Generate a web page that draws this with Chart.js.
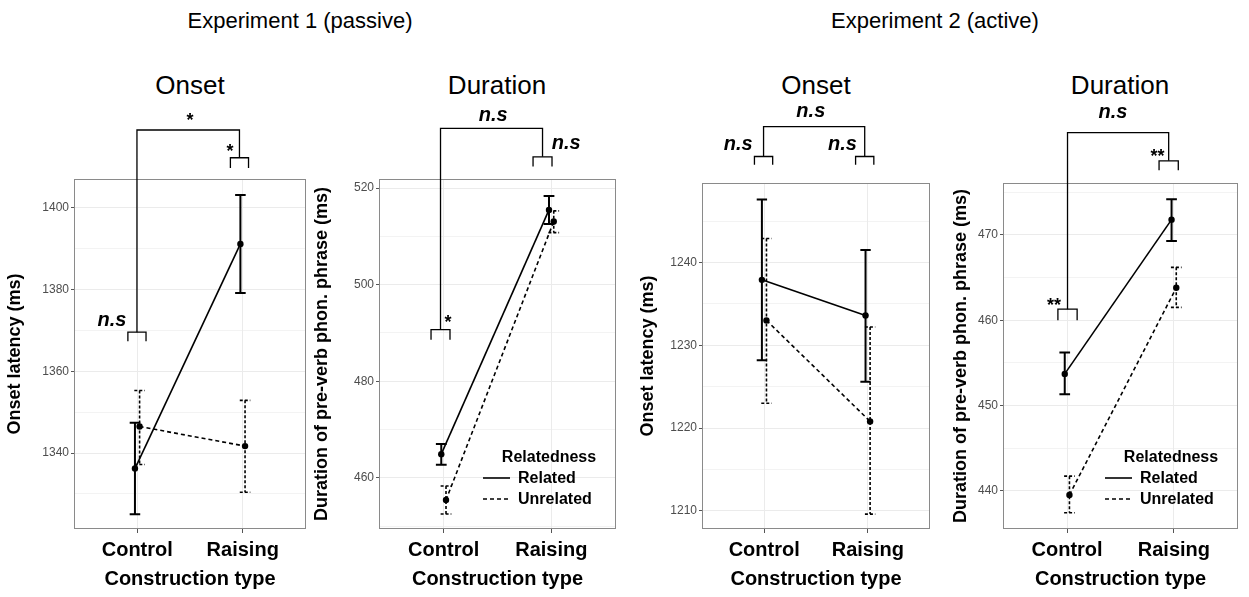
<!DOCTYPE html>
<html>
<head>
<meta charset="utf-8">
<script src="https://cdn.jsdelivr.net/npm/chart.js@4"></script>
<style>
  body { margin: 0; background: #fff; width: 1249px; height: 597px; position: relative; overflow: hidden;
         font-family: "Liberation Sans", Arial, sans-serif; color: #000; }
  .exp { position: absolute; top: 8px; font-size: 22px; transform: translateX(-50%); white-space: nowrap; }
  .ptitle { position: absolute; top: 70px; font-size: 26px; transform: translateX(-50%); white-space: nowrap; }
  canvas { position: absolute; }
</style>
</head>
<body>
<div class="exp" style="left:300px">Experiment 1 (passive)</div>
<div class="exp" style="left:935px">Experiment 2 (active)</div>
<div class="ptitle" style="left:190px">Onset</div>
<div class="ptitle" style="left:497px">Duration</div>
<div class="ptitle" style="left:816px">Onset</div>
<div class="ptitle" style="left:1120px">Duration</div>

<canvas id="p1" width="310" height="537" style="left:0px;top:60px"></canvas>
<canvas id="p2" width="310" height="537" style="left:310px;top:60px"></canvas>
<canvas id="p3" width="310" height="537" style="left:625px;top:60px"></canvas>
<canvas id="p4" width="309" height="537" style="left:940px;top:60px"></canvas>

<script>
// categories and legend entries
const categories = ['Control', 'Raising'];
const groups = ['Related', 'Unrelated'];

// Experiment 1 - onset latency (ms), mean and error bar ends
const e1OnsetRel   = [1336.2, 1391.2];
const e1OnsetRelLo = [1325.0, 1379.2];
const e1OnsetRelHi = [1347.4, 1403.2];
const e1OnsetUnr   = [1346.5, 1341.7];
const e1OnsetUnrLo = [1337.2, 1330.4];
const e1OnsetUnrHi = [1355.3, 1352.9];
const e1OnsetTicks = [1340, 1360, 1380, 1400];
const e1OnsetSig   = ['n.s', '*', '*'];   // control, raising, across

// Experiment 1 - duration of pre-verb phon. phrase (ms)
const e1DurRel   = [464.9, 515.5];
const e1DurRelLo = [462.7, 512.6];
const e1DurRelHi = [467.0, 518.4];
const e1DurUnr   = [455.4, 513.1];
const e1DurUnrLo = [452.5, 510.8];
const e1DurUnrHi = [458.3, 515.3];
const e1DurTicks = [460, 480, 500, 520];
const e1DurSig   = ['*', 'n.s', 'n.s'];

// Experiment 2 - onset latency (ms)
const e2OnsetRel   = [1237.9, 1233.6];
const e2OnsetRelLo = [1228.2, 1225.6];
const e2OnsetRelHi = [1247.6, 1241.5];
const e2OnsetUnr   = [1233.0, 1220.8];
const e2OnsetUnrLo = [1223.0, 1209.6];
const e2OnsetUnrHi = [1242.9, 1232.2];
const e2OnsetTicks = [1210, 1220, 1230, 1240];
const e2OnsetSig   = ['n.s', 'n.s', 'n.s'];

// Experiment 2 - duration of pre-verb phon. phrase (ms)
const e2DurRel   = [453.7, 471.8];
const e2DurRelLo = [451.3, 469.3];
const e2DurRelHi = [456.2, 474.2];
const e2DurUnr   = [439.5, 463.8];
const e2DurUnrLo = [437.4, 461.5];
const e2DurUnrHi = [441.7, 466.2];
const e2DurTicks = [440, 450, 460, 470];
const e2DurSig   = ['**', '**', 'n.s'];

const dodge = 0.022;
const capHalf = 0.05;

function withMinor(major, min, max) {
  const step = major[1] - major[0];
  const all = [];
  for (const m of major) { all.push(m - step / 2); all.push(m); }
  all.push(major[major.length - 1] + step / 2);
  return all.filter(v => v >= min && v <= max);
}

// error bars + panel frame
const errorBars = {
  id: 'errorBars',
  beforeDatasetsDraw(chart) {
    const {ctx, chartArea: a, scales: {x, y}} = chart;
    ctx.save();
    ctx.strokeStyle = '#8a8a8a';
    ctx.lineWidth = 1;
    ctx.strokeRect(a.left + 0.5, a.top + 0.5, a.right - a.left - 1, a.bottom - a.top - 1);
    chart.data.datasets.forEach(ds => {
      ctx.strokeStyle = '#000';
      ctx.lineWidth = ds.errWidth;
      ctx.setLineDash(ds.errDash);
      ds.data.forEach((p, i) => {
        const px = x.getPixelForValue(p.x);
        const hw = x.getPixelForValue(p.x + capHalf) - px;
        const yl = y.getPixelForValue(ds.lo[i]);
        const yh = y.getPixelForValue(ds.hi[i]);
        ctx.beginPath();
        ctx.moveTo(px - hw, yh); ctx.lineTo(px + hw, yh);
        ctx.moveTo(px, yh); ctx.lineTo(px, yl);
        ctx.moveTo(px - hw, yl); ctx.lineTo(px + hw, yl);
        ctx.stroke();
      });
    });
    ctx.restore();
  }
};

// significance brackets and legend
const annotations = {
  id: 'annotations',
  afterDraw(chart, args, opts) {
    const {ctx, chartArea: a, scales: {x, y}} = chart;
    ctx.save();
    ctx.strokeStyle = '#000';
    ctx.lineWidth = 1.3;
    const b = opts.brackets;
    b.forEach(br => {
      const x1 = x.getPixelForValue(br.c - opts.half), x2 = x.getPixelForValue(br.c + opts.half);
      const yt = y.getPixelForValue(br.top), yl = y.getPixelForValue(br.leg);
      ctx.beginPath();
      ctx.moveTo(x1, yl); ctx.lineTo(x1, yt); ctx.lineTo(x2, yt); ctx.lineTo(x2, yl);
      ctx.stroke();
    });
    const ya = y.getPixelForValue(opts.across);
    const xa = x.getPixelForValue(b[0].c), xb = x.getPixelForValue(b[1].c);
    ctx.beginPath();
    ctx.moveTo(xa, y.getPixelForValue(b[0].top)); ctx.lineTo(xa, ya);
    ctx.lineTo(xb, ya); ctx.lineTo(xb, y.getPixelForValue(b[1].top));
    ctx.stroke();

    ctx.fillStyle = '#000';
    ctx.textAlign = 'center';
    ctx.textBaseline = 'middle';
    opts.labels.forEach(l => {
      const star = l.text.indexOf('*') >= 0;
      ctx.font = star ? 'bold 18px "Liberation Sans"' : 'italic bold 20px "Liberation Sans"';
      ctx.fillText(l.text, x.getPixelForValue(l.x), y.getPixelForValue(l.y) + (star ? 4 : 0));
    });

    if (opts.legend) {
      const r = a.right, bt = a.bottom;
      ctx.font = 'bold 16px "Liberation Sans"';
      ctx.textAlign = 'center';
      ctx.fillText('Relatedness', r - 67, bt - 71);
      ctx.textAlign = 'left';
      chart.data.datasets.forEach((ds, i) => {
        const yy = bt - 51 + i * 21;
        ctx.lineWidth = 1.6;
        ctx.setLineDash(ds.borderDash);
        ctx.beginPath();
        ctx.moveTo(r - 133, yy); ctx.lineTo(r - 106, yy);
        ctx.stroke();
        ctx.setLineDash([]);
        ctx.fillText(ds.label, r - 98, yy + 1);
      });
    }
    ctx.restore();
  }
};

function makePanel(id, p) {
  const allTicks = withMinor(p.ticks, p.min, p.max);
  const mk = (vals, lo, hi, k) => ({
    label: groups[k],
    data: vals.map((v, i) => ({x: i + 1 + (k === 0 ? -dodge : dodge), y: v})),
    lo: lo, hi: hi,
    borderColor: '#000', backgroundColor: '#000',
    borderWidth: 1.6,
    borderDash: k === 0 ? [] : [4, 3],
    errWidth: k === 0 ? 2 : 1.6,
    errDash: k === 0 ? [] : [3, 2],
    pointRadius: 3.2, pointBorderWidth: 0,
    pointBackgroundColor: '#000'
  });
  return new Chart(document.getElementById(id), {
    type: 'line',
    data: {
      datasets: [mk(p.rel, p.relLo, p.relHi, 0), mk(p.unr, p.unrLo, p.unrHi, 1)]
    },
    plugins: [errorBars, annotations],
    options: {
      responsive: false,
      devicePixelRatio: 1,
      animation: false,
      layout: { padding: { top: p.padTop, right: p.padRight, left: 0, bottom: 0 } },
      plugins: {
        legend: { display: false },
        tooltip: { enabled: false },
        annotations: p.ann
      },
      scales: {
        x: {
          type: 'linear', min: 0.4, max: 2.6,
          afterBuildTicks: s => { s.ticks = categories.map((c, i) => ({value: i + 1})); },
          afterFit: s => { s.height = 68; },
          ticks: {
            autoSkip: false, maxRotation: 0, minRotation: 0, padding: 5,
            color: '#000', font: { family: 'Liberation Sans', size: 20, weight: 'bold' },
            callback: (v, i) => categories[i]
          },
          grid: { color: '#ebebeb', lineWidth: 1, tickLength: 4, tickColor: '#555' },
          border: { display: false },
          title: {
            display: true, text: 'Construction type', color: '#000',
            font: { family: 'Liberation Sans', size: 20, weight: 'bold' },
            padding: { top: 0, bottom: 6 }
          }
        },
        y: {
          type: 'linear', min: p.min, max: p.max,
          afterBuildTicks: s => { s.ticks = allTicks.map(v => ({value: v})); },
          afterFit: s => { s.width = p.yWidth; },
          ticks: {
            autoSkip: false, padding: 2, color: '#4d4d4d',
            font: { family: 'Liberation Sans', size: 12 },
            callback: v => p.ticks.includes(v) ? String(v) : ''
          },
          grid: {
            color: '#ebebeb',
            lineWidth: c => (c.tick && p.ticks.includes(c.tick.value)) ? 1 : 0.6,
            tickLength: 3,
            tickColor: c => (c.tick && p.ticks.includes(c.tick.value)) ? '#555' : 'rgba(0,0,0,0)'
          },
          border: { display: false },
          title: {
            display: true, text: p.yTitle, color: '#000',
            font: { family: 'Liberation Sans', size: 18, weight: 'bold' },
            padding: { top: p.titlePad, bottom: 0 }
          }
        }
      }
    }
  });
}

makePanel('p1', {
  rel: e1OnsetRel, relLo: e1OnsetRelLo, relHi: e1OnsetRelHi,
  unr: e1OnsetUnr, unrLo: e1OnsetUnrLo, unrHi: e1OnsetUnrHi,
  ticks: e1OnsetTicks, min: 1321.4, max: 1407.1,
  yTitle: 'Onset latency (ms)', yWidth: 74, titlePad: 4, padTop: 119, padRight: 4,
  ann: {
    half: 0.086, across: 1419.1,
    brackets: [{c: 0.997, top: 1369.6, leg: 1367.4}, {c: 1.969, top: 1412.3, leg: 1409.8}],
    labels: [{text: e1OnsetSig[0], x: 0.76, y: 1372.5}, {text: e1OnsetSig[1], x: 1.879, y: 1414.6},
             {text: e1OnsetSig[2], x: 1.5, y: 1422.3}]
  }
});

makePanel('p2', {
  rel: e1DurRel, relLo: e1DurRelLo, relHi: e1DurRelHi,
  unr: e1DurUnr, unrLo: e1DurUnrLo, unrHi: e1DurUnrHi,
  ticks: e1DurTicks, min: 449.4, max: 521.9,
  yTitle: 'Duration of pre-verb phon. phrase (ms)', yWidth: 69, titlePad: 1, padTop: 119, padRight: 4,
  ann: {
    half: 0.088, across: 532.4, legend: true,
    brackets: [{c: 0.971, top: 490.7, leg: 488.6}, {c: 1.918, top: 526.5, leg: 524.5}],
    labels: [{text: e1DurSig[0], x: 1.04, y: 492.9}, {text: e1DurSig[1], x: 2.137, y: 529.2},
             {text: e1DurSig[2], x: 1.46, y: 535.0}]
  }
});

makePanel('p3', {
  rel: e2OnsetRel, relLo: e2OnsetRelLo, relHi: e2OnsetRelHi,
  unr: e2OnsetUnr, unrLo: e2OnsetUnrLo, unrHi: e2OnsetUnrHi,
  ticks: e2OnsetTicks, min: 1207.8, max: 1249.6,
  yTitle: 'Onset latency (ms)', yWidth: 77, titlePad: 12, padTop: 123, padRight: 5,
  ann: {
    half: 0.088, across: 1256.4,
    brackets: [{c: 0.994, top: 1252.8, leg: 1251.8}, {c: 1.97, top: 1252.8, leg: 1251.8}],
    labels: [{text: e2OnsetSig[0], x: 0.75, y: 1254.3}, {text: e2OnsetSig[1], x: 1.756, y: 1254.3},
             {text: e2OnsetSig[2], x: 1.45, y: 1258.2}]
  }
});

makePanel('p4', {
  rel: e2DurRel, relLo: e2DurRelLo, relHi: e2DurRelHi,
  unr: e2DurUnr, unrLo: e2DurUnrLo, unrHi: e2DurUnrHi,
  ticks: e2DurTicks, min: 435.5, max: 476.1,
  yTitle: 'Duration of pre-verb phon. phrase (ms)', yWidth: 63, titlePad: 10, padTop: 123, padRight: 11,
  ann: {
    half: 0.09, across: 482.0, legend: true,
    brackets: [{c: 1.004, top: 461.3, leg: 460.0}, {c: 1.951, top: 478.7, leg: 477.6}],
    labels: [{text: e2DurSig[0], x: 0.877, y: 462.1}, {text: e2DurSig[1], x: 1.847, y: 479.6},
             {text: e2DurSig[2], x: 1.43, y: 484.35}]
  }
});
</script>
</body>
</html>
